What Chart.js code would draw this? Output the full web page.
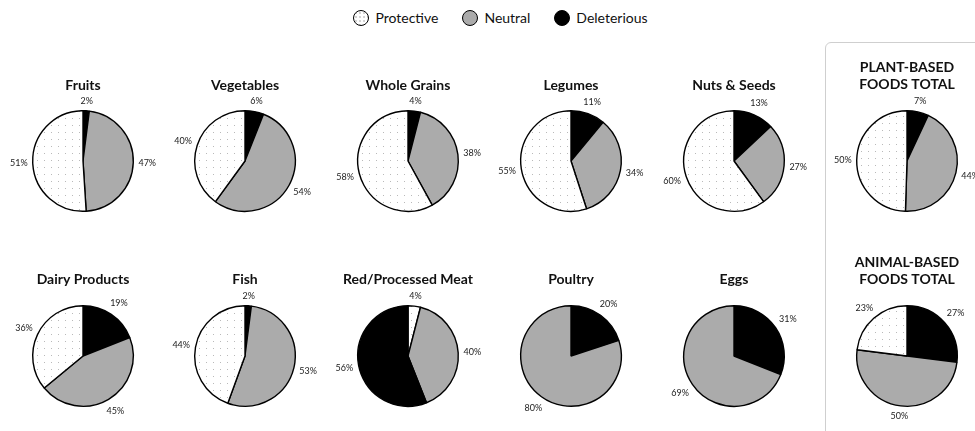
<!DOCTYPE html>
<html>
<head>
<meta charset="utf-8">
<script src="https://cdn.jsdelivr.net/npm/chart.js@4.4.1/dist/chart.umd.min.js"></script>
<style>
  html, body { margin: 0; padding: 0; background: #fff; }
  body { width: 975px; height: 431px; position: relative; overflow: hidden; font-family: Lato, "Noto Sans", sans-serif; }
  .legend { position: absolute; top: 9px; left: 13px; width: 975px; display: flex; justify-content: center; gap: 24px; font-size: 14px; color: #111; line-height: 18px; }
  .legend span { display: inline-flex; align-items: center; }
  .legend i { display: inline-block; width: 16px; height: 16px; border: 1px solid #000; border-radius: 50%; margin-right: 6px; box-sizing: border-box; }
  .panel { position: absolute; left: 825px; top: 42px; width: 220px; height: 460px; border: 1px solid #cfcfcf; border-radius: 6px; box-sizing: border-box; }
  canvas { position: absolute; }
</style>
</head>
<body>
<div class="panel"></div>
<div class="legend" id="legend"></div>
<script>
// Share of each food group's health effect, in percent
const categories = ['Fruits', 'Vegetables', 'Whole Grains', 'Legumes', 'Nuts & Seeds', 'PLANT-BASED FOODS TOTAL',
                    'Dairy Products', 'Fish', 'Red/Processed Meat', 'Poultry', 'Eggs', 'ANIMAL-BASED FOODS TOTAL'];
const protective  = [51, 40, 58, 55, 60, 50, 36, 44, 4, 0, 0, 23];
const neutral     = [47, 54, 38, 34, 27, 44, 45, 53, 40, 80, 69, 50];
const deleterious = [2, 6, 4, 11, 13, 7, 19, 2, 56, 20, 31, 27];
const seriesNames = ['Protective', 'Neutral', 'Deleterious'];
// groups whose slices run protective → neutral → deleterious from 12 o'clock
const protectiveFirst = ['Red/Processed Meat'];
// totals shown as two-line uppercase headings
const totals = ['PLANT-BASED FOODS TOTAL', 'ANIMAL-BASED FOODS TOTAL'];

const GRAY = '#ababab';
const BLACK = '#000000';

// light dotted fill for the protective share
function dotPattern() {
  const c = document.createElement('canvas');
  c.width = 7; c.height = 7;
  const g = c.getContext('2d');
  g.fillStyle = '#ffffff';
  g.fillRect(0, 0, 7, 7);
  g.fillStyle = '#b9b9b9';
  g.fillRect(3, 3, 1, 1);
  return g.createPattern(c, 'repeat');
}
const DOTS = dotPattern();

// legend
const legendEl = document.getElementById('legend');
const legendFills = [
  'radial-gradient(circle, #bbb 0.6px, transparent 0.9px) 0 0 / 4px 4px, #fff',
  GRAY, BLACK
];
seriesNames.forEach((name, i) => {
  const s = document.createElement('span');
  const sw = document.createElement('i');
  sw.style.background = legendFills[i];
  s.appendChild(sw);
  s.appendChild(document.createTextNode(name));
  legendEl.appendChild(s);
});

// percentage labels just outside each slice
const outsideLabels = {
  id: 'outsideLabels',
  afterDatasetsDraw(chart) {
    const ctx = chart.ctx;
    const meta = chart.getDatasetMeta(0);
    const data = chart.data.datasets[0].data;
    ctx.save();
    ctx.font = '9px Lato, "Noto Sans", sans-serif';
    ctx.fillStyle = '#222';
    ctx.textAlign = 'center';
    ctx.textBaseline = 'middle';
    meta.data.forEach((arc, i) => {
      if (!data[i]) return;
      const p = arc.getProps(['x', 'y', 'startAngle', 'endAngle', 'outerRadius'], true);
      const a = (p.startAngle + p.endAngle) / 2;
      const txt = data[i] + '%';
      const w = ctx.measureText(txt).width;
      const h = 9;
      const d = p.outerRadius + 5 + Math.abs(Math.cos(a)) * w / 2 + Math.abs(Math.sin(a)) * h / 2;
      ctx.fillText(txt, p.x + Math.cos(a) * d, p.y + Math.sin(a) * d);
    });
    ctx.restore();
  }
};

const colCenters = [83, 245, 408, 571, 734, 907];
const rowPieTop = [110, 305];
const rowTitleMid = [85.7, 279.3];
const PIE = 102;
const FONT_SIZE = 14;

categories.forEach((name, idx) => {
  const row = Math.floor(idx / 6), col = idx % 6;
  const isTotal = totals.includes(name);
  const titleBox = isTotal ? 60 : 44;
  const cv = document.createElement('canvas');
  const W = 182, H = titleBox + PIE + 26;
  cv.width = W; cv.height = H;
  cv.style.left = (colCenters[col] - W / 2) + 'px';
  cv.style.top = (rowPieTop[row] - titleBox) + 'px';
  document.body.appendChild(cv);

  let titleText, padTop, lineH;
  if (isTotal) {
    const words = name.split(' ');
    titleText = [words[0], words.slice(1).join(' ')];
    lineH = 16.5;
    padTop = 9.5;
  } else {
    titleText = name;
    lineH = 16;
    padTop = rowTitleMid[row] - (rowPieTop[row] - titleBox) - lineH / 2;
  }
  const padBottom = titleBox - padTop - lineH * (isTotal ? 2 : 1);

  const values = [deleterious[idx], neutral[idx], protective[idx]];
  const fills = [BLACK, GRAY, DOTS];
  const order = protectiveFirst.includes(name) ? [2, 1, 0] : [0, 1, 2];

  new Chart(cv, {
    type: 'pie',
    data: {
      labels: order.map(k => seriesNames[2 - k]),
      datasets: [{
        data: order.map(k => values[k]),
        backgroundColor: order.map(k => fills[k]),
        borderColor: '#000',
        borderWidth: 1.4
      }]
    },
    options: {
      responsive: false,
      animation: false,
      events: [],
      layout: { padding: { left: 0, right: 0, top: 0, bottom: 26 } },
      plugins: {
        legend: { display: false },
        tooltip: { enabled: false },
        title: {
          display: true,
          text: titleText,
          color: '#111',
          font: { family: 'Lato, "Noto Sans", sans-serif', size: FONT_SIZE, weight: 'bold', lineHeight: lineH / FONT_SIZE },
          padding: { top: padTop, bottom: padBottom }
        }
      }
    },
    plugins: [outsideLabels]
  });
});
</script>
</body>
</html>
